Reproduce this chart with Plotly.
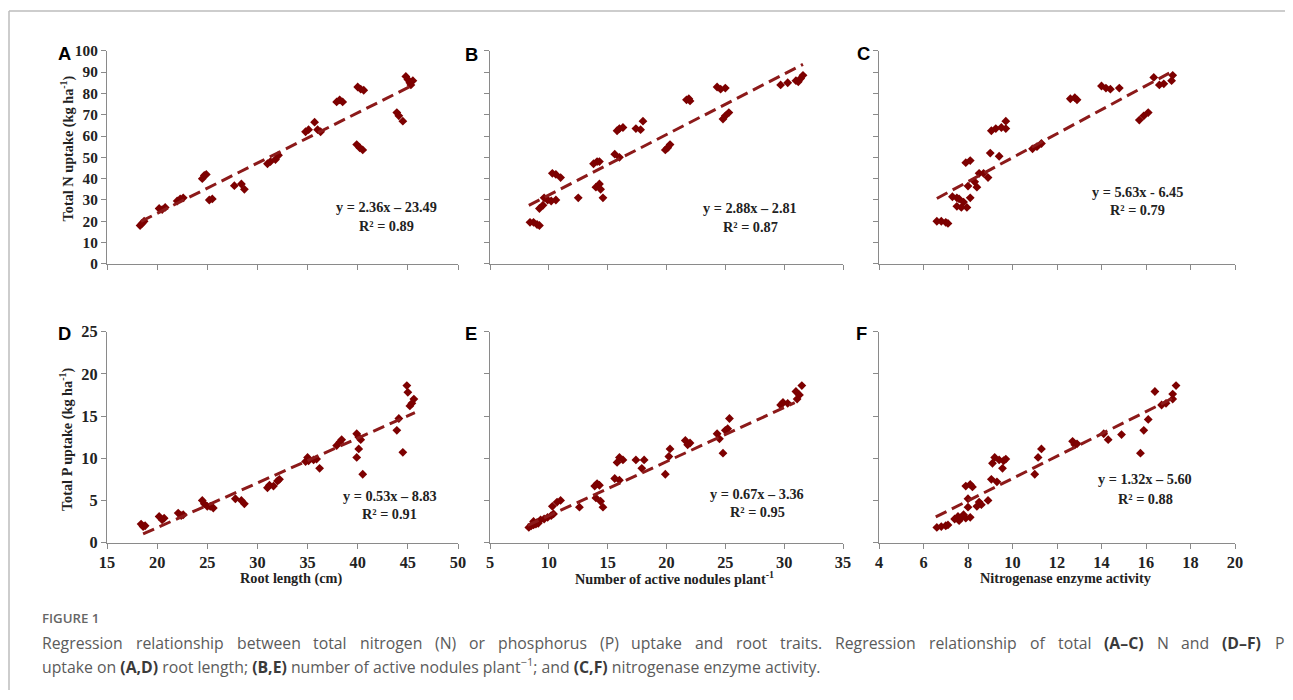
import plotly.graph_objects as go

# ---------------- data ----------------
root_len_N = [18.3, 18.5, 18.7, 20.2, 20.5, 20.8, 22.0, 22.3, 22.6, 24.5, 24.7, 24.9, 25.2, 25.5, 27.7,
              28.4, 28.7, 31.0, 31.3, 31.8, 32.1, 34.8, 35.1, 35.7, 36.0, 36.3, 37.9, 38.2, 38.5, 40.0,
              40.3, 40.6, 39.9, 40.2, 40.5, 43.9, 44.1, 44.5, 44.8, 45.0, 45.2, 45.3, 45.5]
N_uptake_A = [18, 19, 20, 26, 25.5, 26.5, 29.5, 30.5, 31, 40, 41.5, 42, 30, 30.5, 36.7,
              37.5, 35, 47, 48, 49, 51, 62, 63, 66.5, 63, 62, 76, 77, 76, 83,
              82, 81.5, 56, 54.5, 53.5, 71, 69.5, 67, 88, 86.5, 85, 84, 86]

nodules_N = [8.4, 8.7, 9.0, 9.2, 9.2, 9.5, 9.6, 9.9, 10.2, 10.6, 10.3, 10.6, 11.0, 12.5, 13.8, 14.1,
             14.3, 14.0, 14.3, 14.4, 14.6, 15.6, 16.0, 15.8, 16.0, 16.3, 17.4, 17.8, 18.0, 19.9, 20.1,
             20.3, 21.7, 21.9, 22.0, 24.3, 24.6, 25.0, 24.8, 25.0, 25.3, 29.7, 30.3, 31.0, 31.2, 31.4, 31.6]
N_uptake_B = [19.5, 19.5, 18.5, 18, 26, 27.5, 31, 30, 29.5, 30, 42.5, 42, 40.5, 31, 47, 48,
              48, 36, 37.5, 35, 31, 51.5, 50, 62.5, 63.5, 64, 63.5, 63, 67, 53.5, 54.5,
              56, 77, 77.5, 76.5, 83, 82, 82.5, 68, 69.5, 71, 84, 85, 86, 85.5, 87, 88.5]

enzyme_N = [6.6, 6.8, 7.0, 7.1, 7.3, 7.5, 7.6, 7.5, 7.7, 7.8, 7.95, 7.9, 8.1, 8.0, 8.1, 8.3, 8.4, 8.5,
            8.7, 8.9, 9.0, 9.4, 9.05, 9.25, 9.5, 9.7, 9.7, 10.9, 11.1, 11.3, 12.6, 12.8, 12.9, 14.0,
            14.2, 14.4, 14.8, 15.7, 15.9, 16.1, 16.35, 16.6, 16.8, 17.15, 17.2]
N_uptake_C = [20, 20, 19.5, 19, 31.5, 31, 30.5, 27, 26.5, 29, 26.5, 47.5, 48.5, 36.5, 31, 38.5, 36, 42.5,
              42.5, 40.5, 52, 50.5, 62.5, 63.5, 64, 63.5, 67, 54, 55, 56.5, 77.5, 78, 77, 83.5,
              82.5, 82, 82.5, 67.5, 69.5, 71, 87.5, 84, 84.5, 86, 88.5]

root_len_P = [18.4, 18.6, 18.8, 20.2, 20.5, 20.7, 22.1, 22.4, 22.6, 24.5, 24.7, 25.0, 25.3, 25.6, 27.8,
              28.4, 28.7, 31.0, 31.2, 31.6, 32.0, 32.2, 34.8, 35.0, 35.1, 35.6, 35.9, 36.2, 37.9, 38.2,
              38.4, 39.9, 40.1, 40.3, 39.9, 40.1, 40.5, 43.9, 44.1, 44.5, 44.9, 45.0, 45.2, 45.4, 45.6]
P_uptake_D = [2.2, 1.9, 2.0, 3.1, 2.7, 2.9, 3.5, 3.2, 3.3, 5.0, 4.6, 4.3, 4.3, 4.1, 5.2,
              5.0, 4.6, 6.5, 6.8, 6.7, 7.3, 7.5, 9.6, 10.1, 9.7, 9.8, 9.9, 8.8, 11.5, 11.9,
              12.2, 12.9, 12.5, 12.2, 10.1, 11.1, 8.1, 13.3, 14.7, 10.7, 18.6, 17.8, 16.2, 16.5, 17.0]

nodules_P = [8.3, 8.5, 8.7, 8.9, 9.1, 8.7, 9.0, 9.3, 9.6, 9.9, 10.2, 10.4, 10.3, 10.7, 11.0, 12.6,
             13.9, 14.1, 14.3, 14.0, 14.4, 14.6, 15.6, 16.0, 15.8, 16.0, 16.3, 17.4, 17.9, 18.1, 19.9,
             20.2, 20.3, 21.6, 21.8, 22.0, 24.3, 24.5, 24.8, 25.0, 25.2, 25.35, 29.7, 29.9, 30.3, 31.0,
             31.1, 31.3, 31.5]
P_uptake_E = [1.8, 2.0, 2.1, 2.2, 2.3, 2.5, 2.4, 2.7, 2.8, 3.0, 3.2, 3.4, 4.3, 4.8, 5.0, 4.2,
              6.7, 7.0, 6.8, 5.3, 4.9, 4.2, 7.6, 7.4, 9.5, 10.1, 9.8, 9.8, 8.8, 9.8, 8.1,
              10.2, 11.1, 12.1, 11.6, 11.8, 12.9, 12.3, 10.6, 13.3, 13.5, 14.7, 16.3, 16.6, 16.5, 17.9,
              17.0, 17.5, 18.6]

enzyme_P = [6.6, 6.8, 7.0, 7.1, 7.4, 7.55, 7.6, 7.7, 7.8, 7.9, 7.9, 8.1, 8.2, 8.0, 8.1, 8.0, 8.4, 8.5,
            8.6, 8.9, 9.05, 9.1, 9.2, 9.4, 9.6, 9.7, 9.3, 9.55, 11.0, 11.15, 11.3, 12.7, 12.8, 12.9,
            14.1, 14.3, 14.9, 15.75, 15.9, 16.1, 16.4, 16.7, 16.9, 17.2, 17.2, 17.35]
P_uptake_F = [1.8, 1.9, 2.0, 2.1, 2.8, 3.1, 2.6, 3.0, 3.3, 2.9, 6.7, 6.9, 6.6, 5.2, 3.0, 4.2, 4.3, 4.8,
              4.5, 5.0, 7.5, 9.4, 10.1, 9.8, 9.7, 9.9, 7.2, 8.8, 8.1, 10.1, 11.1, 12.0, 11.6, 11.7,
              12.9, 12.2, 12.8, 10.6, 13.3, 14.6, 17.9, 16.3, 16.5, 17.0, 17.6, 18.6]

# trend lines as drawn in the picture: slope, intercept, x start, x end
trend_slope = [2.36, 2.84, 5.63, 0.53, 0.64, 1.32]
trend_intercept = [-23.49, 3.9, -6.45, -8.83, -3.2, -5.60]
trend_x_start = [18.4, 8.3, 6.6, 18.6, 8.2, 6.55]
trend_x_end = [45.2, 31.6, 17.2, 45.7, 30.9, 17.2]

equation_labels = ["y = 2.36x – 23.49", "y = 2.88x – 2.81", "y = 5.63x - 6.45",
                   "y = 0.53x – 8.83", "y = 0.67x – 3.36", "y = 1.32x – 5.60"]
r2_labels = ["R² = 0.89", "R² = 0.87", "R² = 0.79", "R² = 0.91", "R² = 0.95", "R² = 0.88"]
panel_letters = ["A", "B", "C", "D", "E", "F"]

x_ranges = [[15, 50], [5, 35], [4, 20]]
x_dticks = [5, 5, 2]
x_titles = ["Root length (cm)", "Number of active nodules plant<sup>-1</sup>", "Nitrogenase enzyme activity"]
y_ranges = [[0, 100], [0, 25]]
y_dticks = [10, 5]
y_titles = ["Total N uptake (kg ha<sup>-1</sup>)", "Total P uptake (kg ha<sup>-1</sup>)"]

caption_head = "FIGURE 1"
caption_line1_words = ["Regression", "relationship", "between", "total", "nitrogen", "(N)", "or", "phosphorus",
                       "(P)", "uptake", "and", "root", "traits.", "Regression", "relationship", "of", "total",
                       "**(A–C)", "N", "and", "**(D–F)", "P"]
caption_line2 = ("uptake on <b>(A,D)</b> root length; <b>(B,E)</b> number of active nodules plant<sup>−1</sup>; "
                 "and <b>(C,F)</b> nitrogenase enzyme activity.")

xs = [root_len_N, nodules_N, enzyme_N, root_len_P, nodules_P, enzyme_P]
ys = [N_uptake_A, N_uptake_B, N_uptake_C, P_uptake_D, P_uptake_E, P_uptake_F]

# ---------------- layout helpers ----------------
# The photographed page appears inset by 8px and scaled to 1277x684, so target pixel
# positions are mapped through that frame.
W, H = 1293, 700
INSET = 8
VW, VH = W - 2 * INSET, H - 2 * INSET
def px_x(v): return (v - INSET) / VW
def px_y(v): return 1 - (v - INSET) / VH
FS = 1.02  # font compensation for that scaling

col_px = [(107, 458), (490, 843), (879, 1235)]
row_px = [(50, 264), (332, 544)]

MARK = "#7d0000"
LINE = "#8c1a1a"
AX = "#8a8a8a"
SERIF = "Liberation Serif"

fig = go.Figure()
layout = {}
annotations = []

for i in range(6):
    r, c = divmod(i, 3)
    n = "" if i == 0 else str(i + 1)
    xa, ya = "x" + n, "y" + n

    fig.add_trace(go.Scatter(x=xs[i], y=ys[i], mode="markers", xaxis=xa, yaxis=ya,
                             marker=dict(symbol="diamond", size=6.8, color=MARK, line=dict(width=0)),
                             showlegend=False, hoverinfo="x+y"))
    tx = [trend_x_start[i], trend_x_end[i]]
    ty = [trend_slope[i] * v + trend_intercept[i] for v in tx]
    fig.add_trace(go.Scatter(x=tx, y=ty, mode="lines", xaxis=xa, yaxis=ya,
                             line=dict(color=LINE, width=3, dash="12px,6px"),
                             showlegend=False, hoverinfo="skip"))

    layout["xaxis" + n] = dict(
        domain=[px_x(col_px[c][0]), px_x(col_px[c][1])], anchor=ya,
        range=x_ranges[c], dtick=x_dticks[c], tick0=x_ranges[c][0],
        showgrid=False, zeroline=False, showline=True, linecolor=AX, linewidth=1.3,
        ticks="outside", ticklen=5, tickcolor=AX, tickwidth=1.2,
        showticklabels=(r == 1),
        tickfont=dict(family=SERIF, size=16 * FS, color="#222", weight="bold"),
    )
    layout["yaxis" + n] = dict(
        domain=[px_y(row_px[r][1]), px_y(row_px[r][0])], anchor=xa,
        range=y_ranges[r], dtick=y_dticks[r], tick0=0,
        showgrid=False, zeroline=False, showline=True, linecolor=AX, linewidth=1.3,
        ticks="outside", ticklen=5, tickcolor=AX, tickwidth=1.2,
        showticklabels=(c == 0),
        tickfont=dict(family=SERIF, size=(15 if r == 0 else 16) * FS, color="#222", weight="bold"),
    )

def ann(x, y, text, size, family=SERIF, color="#222", xanchor="center", angle=0, weight=None):
    f = dict(family=family, size=size * FS, color=color)
    if weight is not None:
        f["weight"] = weight
    annotations.append(dict(x=px_x(x), y=px_y(y), xref="paper", yref="paper", showarrow=False,
                            text=text, xanchor=xanchor, yanchor="middle", textangle=angle, font=f))

# equations, R² and panel letters (pixel centres)
eq_pos = [(387, 207, 226), (750, 208, 227), (1137, 192, 210),
          (390, 497, 515), (757, 495, 513), (1145, 480, 500)]
letter_pos = [(64, 53), (472, 54), (863, 53), (64, 334), (471, 334), (861, 334)]
for i in range(6):
    x, y1, y2 = eq_pos[i]
    ann(x, y1, "<b>" + equation_labels[i] + "</b>", 14)
    ann(x, y2, "<b>" + r2_labels[i] + "</b>", 14)
    lx, ly = letter_pos[i]
    ann(lx, ly, "<b>" + panel_letters[i] + "</b>", 18, family="Liberation Sans", color="#000")

# axis titles
ann(67, 148, "<b>" + y_titles[0] + "</b>", 14, angle=-90)
ann(66, 440, "<b>" + y_titles[1] + "</b>", 14, angle=-90)
for (x, t) in zip([291, 674, 1065], x_titles):
    ann(x, 580, "<b>" + t + "</b>", 14)

# ---------------- caption (first line justified like the reference) ----------------
CAP = "#5b5b5b"
BOLD = "#3a3a3a"
CAPFONT = "Open Sans"
CAPSIZE = 15.5
OS_W = dict(a=.556, b=.613, c=.476, d=.613, e=.561, f=.339, g=.548, h=.614, i=.253, j=.253, k=.525, l=.253,
            m=.930, n=.614, o=.604, p=.613, q=.613, r=.408, s=.477, t=.353, u=.614, v=.501, w=.778, x=.524,
            y=.502, z=.477, A=.633, C=.631, D=.722, F=.526, N=.748, P=.586, R=.618)
OS_P = {"(": .296, ")": .296, ".": .266, ",": .245, ";": .266, "–": .5}
def est_width(word, size, bold=False):
    w = sum(OS_W.get(ch, OS_P.get(ch, .55)) for ch in word) * size * FS
    return w * (1.07 if bold else 1.0)

ann(40, 620, caption_head, 13, family=CAPFONT, color="#666", xanchor="left", weight=600)

x_left, x_right = 40, 1282
words = [(w[2:], True) if w.startswith("**") else (w, False) for w in caption_line1_words]
widths = [est_width(w, CAPSIZE, bold) for w, bold in words]
gap = (x_right - x_left - sum(widths)) / (len(words) - 1)
cx = x_left
for (w, bold), wd in zip(words, widths):
    txt = "<b><span style='color:%s'>%s</span></b>" % (BOLD, w) if bold else w
    ann(cx, 645, txt, CAPSIZE, family=CAPFONT, color=CAP, xanchor="left")
    cx += wd + gap

line2 = caption_line2.replace("<b>", "<b><span style='color:%s'>" % BOLD).replace("</b>", "</span></b>")
ann(40, 668, line2, CAPSIZE, family=CAPFONT, color=CAP, xanchor="left")

shapes = [
    dict(type="line", xref="paper", yref="paper", x0=px_x(9), x1=1, y0=px_y(10), y1=px_y(10),
         line=dict(color="#bdbdbd", width=1.5)),
    dict(type="line", xref="paper", yref="paper", x0=px_x(9), x1=px_x(9), y0=px_y(10), y1=0,
         line=dict(color="#bdbdbd", width=1.5)),
]

fig.update_layout(width=W, height=H, autosize=False, margin=dict(l=0, r=0, t=0, b=0),
                  paper_bgcolor="white", plot_bgcolor="white",
                  annotations=annotations, shapes=shapes, **layout)

fig.write_html("out.html", config={"responsive": False, "displayModeBar": False},
               post_script="document.body.style.margin='0';document.body.style.overflow='hidden';")
